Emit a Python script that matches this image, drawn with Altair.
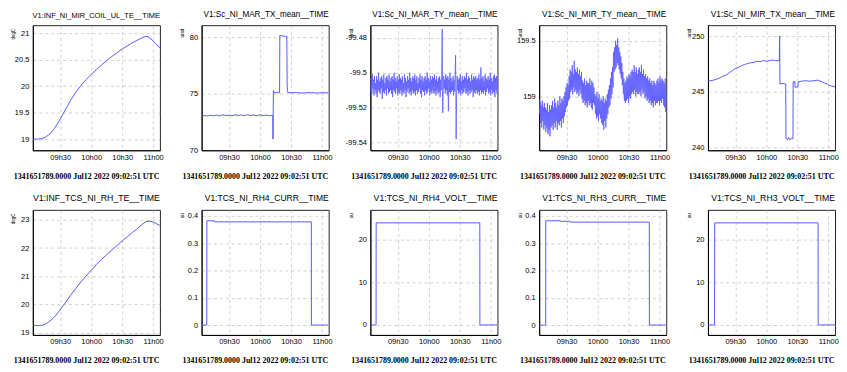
import altair as alt
import pandas as pd

# ---------------- data (time in minutes after 00:00 UTC) ----------------
START = 543.5
END = 666.5
XTICKS = [570, 600, 630, 660]
STAMP = "1341651789.0000 Jul12 2022 09:02:51 UTC"

COIL_T = [543.5, 548, 552.5, 556, 560, 564, 568, 572, 576, 580, 585, 590, 595, 600, 605,
          610, 615, 620, 625, 630, 635, 640, 645, 650, 653, 656, 659, 662, 666.5]
COIL_V = [19.00, 19.00, 19.01, 19.04, 19.10, 19.19, 19.31, 19.45, 19.59, 19.73, 19.88, 20.01,
          20.12, 20.22, 20.31, 20.40, 20.48, 20.56, 20.63, 20.70, 20.76, 20.82, 20.87, 20.92,
          20.94, 20.92, 20.87, 20.81, 20.72]

MAR_TX_T = [543.5, 546, 549, 552, 555, 558, 561, 564, 567, 570, 573, 576, 579, 582, 585, 588,
            591, 594, 597, 600, 603, 606, 609, 612.4, 612.6, 612.8, 613.0, 613.4, 616, 619.0,
            619.2, 622, 625, 626.0, 626.3, 626.6, 627.0, 630, 635, 640, 645, 650, 655, 660, 666.5]
MAR_TX_V = [73.05, 73.08, 73.05, 73.10, 73.06, 73.12, 73.05, 73.15, 73.07, 73.12, 73.06, 73.15,
            73.08, 73.13, 73.06, 73.16, 73.08, 73.12, 73.06, 73.15, 73.08, 73.12, 73.06, 73.10,
            71.0, 73.3, 75.3, 75.1, 75.12, 75.1, 80.2, 80.15, 80.1, 80.1, 75.8, 75.3, 75.12,
            75.1, 75.12, 75.08, 75.1, 75.12, 75.08, 75.1, 75.1]

# two samples per minute from START
MAR_TY_V = [
    -99.503, -99.511, -99.505, -99.512, -99.501, -99.509, -99.504, -99.513, -99.502, -99.510, -99.506, -99.512,
    -99.502, -99.514, -99.504, -99.510, -99.500, -99.511, -99.505, -99.512, -99.503, -99.509, -99.502, -99.515,
    -99.504, -99.511, -99.501, -99.512, -99.506, -99.510, -99.503, -99.513, -99.502, -99.509, -99.504, -99.512,
    -99.501, -99.511, -99.505, -99.510, -99.503, -99.512, -99.502, -99.514, -99.504, -99.510, -99.500, -99.511,
    -99.503, -99.512, -99.505, -99.509, -99.502, -99.513, -99.504, -99.511, -99.501, -99.512, -99.503, -99.510,
    -99.504, -99.513, -99.502, -99.511, -99.506, -99.512, -99.501, -99.510, -99.503, -99.514, -99.505, -99.511,
    -99.502, -99.509, -99.504, -99.512, -99.500, -99.511, -99.503, -99.513, -99.505, -99.510, -99.502, -99.512,
    -99.503, -99.511, -99.501, -99.513, -99.504, -99.510, -99.502, -99.512, -99.506, -99.511, -99.503, -99.509,
    -99.501, -99.512, -99.504, -99.514, -99.502, -99.510, -99.505, -99.511, -99.503, -99.513, -99.502, -99.510,
    -99.504, -99.512, -99.500, -99.511, -99.503, -99.509, -99.505, -99.513, -99.502, -99.511, -99.504, -99.512,
    -99.502, -99.510, -99.503, -99.512, -99.501, -99.511, -99.504, -99.513, -99.502, -99.510, -99.505, -99.512,
    -99.503, -99.511, -99.502, -99.514, -99.504, -99.510, -99.501, -99.475, -99.523, -99.511, -99.502, -99.509,
    -99.504, -99.512, -99.501, -99.510, -99.503, -99.513, -99.502, -99.522, -99.504, -99.511, -99.500, -99.512,
    -99.503, -99.511, -99.505, -99.510, -99.502, -99.513, -99.504, -99.511, -99.501, -99.490, -99.538, -99.512,
    -99.502, -99.510, -99.504, -99.512, -99.503, -99.511, -99.501, -99.513, -99.505, -99.510, -99.502, -99.512,
    -99.504, -99.511, -99.502, -99.509, -99.503, -99.512, -99.500, -99.511, -99.504, -99.513, -99.502, -99.510,
    -99.503, -99.512, -99.505, -99.511, -99.501, -99.510, -99.504, -99.514, -99.502, -99.511, -99.503, -99.512,
    -99.502, -99.510, -99.504, -99.512, -99.503, -99.511, -99.501, -99.513, -99.504, -99.510, -99.497, -99.512,
    -99.503, -99.511, -99.502, -99.512, -99.505, -99.510, -99.501, -99.513, -99.503, -99.511, -99.504, -99.509,
    -99.502, -99.512, -99.504, -99.511, -99.500, -99.513, -99.503, -99.510, -99.505, -99.512, -99.502, -99.511,
    -99.501, -99.514, -99.503, -99.510, -99.502, -99.512, -99.504, -99.511]

MIR_TY_V = [
    158.98, 158.84, 158.95, 158.76, 158.92, 158.72, 158.96, 158.78, 158.90, 158.70, 158.94, 158.74,
    158.90, 158.68, 158.88, 158.72, 158.94, 158.66, 158.86, 158.70, 158.92, 158.64, 158.88, 158.72,
    158.92, 158.74, 158.96, 158.70, 158.90, 158.76, 158.98, 158.72, 158.94, 158.78, 158.90, 158.70,
    158.96, 158.76, 158.92, 158.74, 159.00, 158.78, 158.94, 158.72, 158.98, 158.80, 158.96, 158.76,
    159.00, 158.82, 159.04, 158.86, 159.08, 158.90, 159.12, 158.92, 159.10, 158.96, 159.18, 158.98,
    159.24, 159.04, 159.22, 159.06, 159.28, 159.02, 159.20, 159.08, 159.32, 159.04, 159.24, 159.06,
    159.22, 159.02, 159.26, 159.04, 159.20, 159.00, 159.24, 159.06, 159.18, 159.02, 159.22, 158.98,
    159.14, 158.94, 159.12, 158.96, 159.16, 158.92, 159.10, 158.94, 159.14, 158.90, 159.12, 158.96,
    159.12, 158.92, 159.16, 158.94, 159.10, 158.90, 159.14, 158.88, 159.12, 158.94, 159.08, 158.92,
    159.02, 158.84, 159.00, 158.80, 159.04, 158.82, 158.98, 158.78, 159.02, 158.84, 158.96, 158.80,
    158.98, 158.76, 158.96, 158.74, 159.00, 158.70, 158.94, 158.78, 158.98, 158.72, 158.96, 158.80,
    159.02, 158.84, 159.06, 158.90, 159.10, 158.92, 159.16, 158.98, 159.22, 159.02, 159.26, 159.08,
    159.40, 159.22, 159.44, 159.24, 159.50, 159.26, 159.46, 159.30, 159.52, 159.28, 159.44, 159.24,
    159.40, 159.20, 159.36, 159.16, 159.30, 159.10, 159.22, 159.02, 159.16, 158.96, 159.12, 158.94,
    159.14, 158.96, 159.18, 158.98, 159.16, 158.94, 159.20, 159.00, 159.18, 158.98, 159.22, 159.02,
    159.24, 159.04, 159.22, 159.02, 159.28, 159.06, 159.22, 159.00, 159.26, 159.04, 159.20, 159.02,
    159.24, 159.02, 159.26, 159.04, 159.22, 159.00, 159.28, 159.06, 159.20, 159.02, 159.24, 159.04,
    159.18, 158.98, 159.20, 159.00, 159.16, 158.96, 159.18, 158.98, 159.14, 158.94, 159.16, 158.96,
    159.12, 158.92, 159.14, 158.94, 159.10, 158.90, 159.14, 158.96, 159.12, 158.92, 159.10, 158.94,
    159.14, 158.94, 159.16, 158.96, 159.12, 158.92, 159.18, 158.96, 159.14, 158.94, 159.16, 158.98,
    159.14, 158.92, 159.12, 158.90, 159.16, 158.86, 159.10, 158.84]

MIR_TX_T = [543.5, 546, 549, 552, 555, 558, 561, 564, 567, 570, 573, 576, 579, 582, 585, 588,
            591, 594, 597, 600, 603, 606, 609, 612.6, 612.9, 613.2, 616, 618.8, 619.0, 620.5,
            621.5, 622.5, 624, 625.8, 626.0, 627.6, 627.9, 630.5, 630.8, 634, 638, 642, 646,
            650, 653, 656, 659, 662, 666.5]
MIR_TX_V = [245.95, 246.0, 246.05, 246.15, 246.25, 246.4, 246.5, 246.7, 246.9, 247.1, 247.2,
            247.35, 247.45, 247.55, 247.6, 247.65, 247.75, 247.7, 247.8, 247.75, 247.8, 247.85,
            247.8, 247.8, 250.0, 245.7, 245.75, 245.7, 240.8, 240.7, 240.9, 240.7, 240.8, 240.8,
            245.9, 245.95, 245.4, 245.45, 245.9, 245.95, 246.0, 245.95, 246.0, 246.05, 245.95,
            245.8, 245.7, 245.55, 245.45]

RH_TE_T = [543.5, 548, 551, 554, 557, 560, 564, 568, 572, 576, 580, 585, 590, 595, 600, 605,
           610, 615, 620, 625, 630, 635, 640, 645, 650, 653, 656, 659, 662, 666.5]
RH_TE_V = [19.27, 19.26, 19.26, 19.29, 19.34, 19.42, 19.55, 19.72, 19.92, 20.12, 20.33, 20.57,
           20.80, 21.01, 21.21, 21.42, 21.60, 21.77, 21.93, 22.09, 22.25, 22.40, 22.55, 22.70,
           22.86, 22.93, 22.95, 22.93, 22.88, 22.80]

RH4_CURR_T = [543.5, 548.5, 548.6, 556.0, 556.1, 649.7, 649.8, 666.5]
RH4_CURR_V = [0, 0, 0.382, 0.382, 0.378, 0.378, 0, 0]
RH4_VOLT_T = [543.5, 549.0, 549.1, 649.4, 649.5, 666.5]
RH4_VOLT_V = [0, 0, 24.0, 24.0, 0, 0]
RH3_CURR_T = [543.5, 549.8, 549.9, 564.0, 564.2, 573.5, 573.7, 650.1, 650.2, 666.5]
RH3_CURR_V = [0, 0, 0.382, 0.382, 0.380, 0.380, 0.377, 0.377, 0, 0]
RH3_VOLT_T = [543.5, 549.9, 550.0, 650.1, 650.2, 666.5]
RH3_VOLT_V = [0, 0, 24.0, 24.0, 0, 0]

SAMPLE_STEP = 0.5  # minutes between samples of the noisy series
MAR_TY_T = [START + i * SAMPLE_STEP for i in range(len(MAR_TY_V))]
MIR_TY_T = [START + i * SAMPLE_STEP for i in range(len(MIR_TY_V))]

# ---------------- styling ----------------
LINE = "#5a5aff"
AXFONT = "Liberation Sans"
# vertical position (from plot top) of the lower end of each rotated unit label
UNIT_Y = {"degC": 14, "urad": 12, "au": 8}

PANELS = [
    ("V1:INF_NI_MIR_COIL_UL_TE__TIME", "degC", COIL_T, COIL_V, [18.79, 21.15], [19, 19.5, 20, 20.5, 21], 7.5, 1.0),
    ("V1:Sc_NI_MAR_TX_mean__TIME", "urad", MAR_TX_T, MAR_TX_V, [70, 81.1], [70, 75, 80], 8.2, 1.0),
    ("V1:Sc_NI_MAR_TY_mean__TIME", "urad", MAR_TY_T, MAR_TY_V, [-99.5444, -99.4728], [-99.54, -99.52, -99.5, -99.48], 8.2, 0.8),
    ("V1:Sc_NI_MIR_TY_mean__TIME", "urad", MIR_TY_T, MIR_TY_V, [158.515, 159.64], [159, 159.5], 8.35, 0.8),
    ("V1:Sc_NI_MIR_TX_mean__TIME", "urad", MIR_TX_T, MIR_TX_V, [239.76, 250.98], [240, 245, 250], 8.35, 1.0),
    ("V1:INF_TCS_NI_RH_TE__TIME", "degC", RH_TE_T, RH_TE_V, [18.93, 23.35], [19, 20, 21, 22, 23], 8.8, 1.0),
    ("V1:TCS_NI_RH4_CURR__TIME", "au", RH4_CURR_T, RH4_CURR_V, [-0.036, 0.422], [0, 0.1, 0.2, 0.3, 0.4], 8.6, 1.0),
    ("V1:TCS_NI_RH4_VOLT__TIME", "au", RH4_VOLT_T, RH4_VOLT_V, [-2.35, 27.06], [0, 10, 20], 8.8, 1.0),
    ("V1:TCS_NI_RH3_CURR__TIME", "au", RH3_CURR_T, RH3_CURR_V, [-0.036, 0.422], [0, 0.1, 0.2, 0.3, 0.4], 8.6, 1.0),
    ("V1:TCS_NI_RH3_VOLT__TIME", "au", RH3_VOLT_T, RH3_VOLT_V, [-2.35, 27.06], [0, 10, 20], 8.8, 1.0),
]

XLABEL = "format(floor(datum.value/60),'02d') + 'h' + format(datum.value % 60,'02d')"
YLABEL = "replace(format(datum.value,'~f'),'\u2212','-')"


def panel(name, unit, t, v, dom, ticks, tsize, lw):
    assert len(t) == len(v)
    df = pd.DataFrame({"t": t, "v": v})
    return alt.Chart(df).mark_line(color=LINE, strokeWidth=lw, clip=True).encode(
        x=alt.X("t:Q",
                scale=alt.Scale(domain=[START, END], nice=False, zero=False),
                axis=alt.Axis(values=XTICKS, labelExpr=XLABEL, title=STAMP,
                              titleX=127, titleY=28, titleAlign="right",
                              titleBaseline="alphabetic", titleFont="Liberation Serif",
                              titleFontWeight="bold", titleFontSize=8, titleColor="#000",
                              labelPadding=3)),
        y=alt.Y("v:Q",
                scale=alt.Scale(domain=dom, nice=False, zero=False),
                axis=alt.Axis(values=ticks, labelExpr=YLABEL, title=unit,
                              titleAngle=270, titleAlign="left", titleBaseline="middle",
                              titleX=-19, titleY=UNIT_Y[unit], titleFontSize=4.5,
                              titleFont=AXFONT, titleFontWeight="normal", titleColor="#000",
                              labelPadding=4)),
    ).properties(
        width=128, height=126,
        title=alt.TitleParams(name, fontSize=tsize, anchor="end", offset=-2, baseline="bottom",
                              frame="group", font=AXFONT, fontWeight="normal", color="#000"),
    )


charts = [panel(*p) for p in PANELS]

chart = alt.concat(
    *charts, columns=5, spacing={"row": 60, "column": 42}, bounds="flush"
).properties(
    padding={"left": 2, "top": 0, "right": 0, "bottom": 0},
    background="white",
).configure_view(
    stroke="#222", strokeWidth=1
).configure_axis(
    labelFont=AXFONT, labelFontSize=7.5, labelColor="#000", labelFlush=False,
    labelOverlap=False, ticks=False, tickSize=0, domainColor="#000", domainWidth=1,
    grid=True, gridColor="#bdbdbd", gridDash=[3, 3], gridWidth=0.7,
)

chart.save("out.html", embed_options={"renderer": "svg", "actions": False})
